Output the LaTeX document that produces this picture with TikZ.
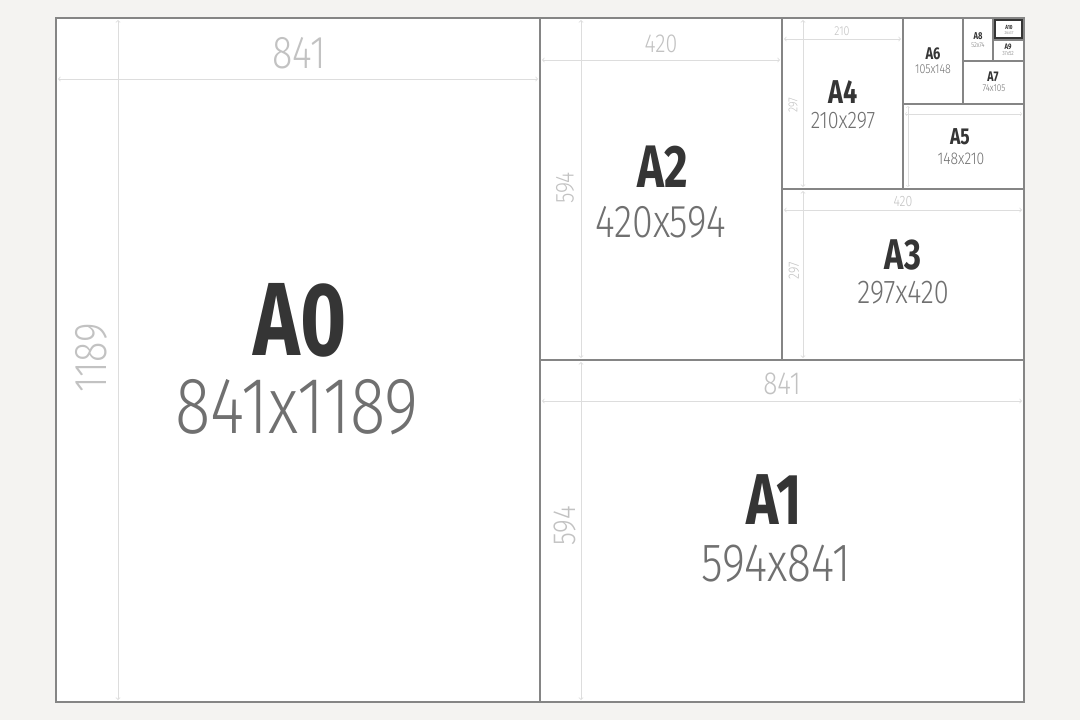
\documentclass[tikz,border=0pt]{standalone}
\usepackage{fontspec}
\usepackage{tikz}
\usetikzlibrary{arrows}

\newfontfamily\namefont[FakeStretch=0.76]{Fira Sans}
\newfontfamily\sizefont[FakeStretch=0.82]{Fira Sans Light}

\definecolor{pagebg}{HTML}{F4F3F1}
\definecolor{sheetline}{HTML}{858585}
\definecolor{namecol}{HTML}{353535}
\definecolor{sizecol}{HTML}{707070}
\definecolor{dimcol}{HTML}{C2C2C2}
\definecolor{dimline}{HTML}{DDDDDD}

\begin{document}
\begin{tikzpicture}[x=1pt, y=-1pt,
    sheet/.style = {draw=sheetline, line width=1.1pt},
    dim/.style = {draw=dimline, line width=0.8pt, to-to},
    papername/.style = {font=\namefont\bfseries\fontsize{#1}{#1}\selectfont, text=namecol, inner sep=0pt},
    papersize/.style = {font=\sizefont\fontsize{#1}{#1}\selectfont, text=sizecol, inner sep=0pt},
    dimlabel/.style = {font=\sizefont\fontsize{#1}{#1}\selectfont, text=dimcol, inner sep=0pt}]
        \useasboundingbox (0,0) rectangle (1080,720);
        \fill[pagebg] (0,0) rectangle (1080,720);
        \fill[white] (56,18) rectangle (1024,702);

        % dimension lines
        \draw[dim] (58,79) -- (538,79);
        \draw[dim] (118,20) -- (118,700);
        \draw[dim] (542,60) -- (780,60);
        \draw[dim] (581,20) -- (581,358);
        \draw[dim] (542,401) -- (1022,401);
        \draw[dim] (581,362) -- (581,700);
        \draw[dim] (784,210) -- (1022,210);
        \draw[dim] (803,191) -- (803,358);
        \draw[dim] (784,39) -- (901,39);
        \draw[dim] (803,20) -- (803,187);
        \draw[dim, line width=0.5pt] (905,114) -- (1022,114);
        \draw[dim, line width=0.5pt] (908,106) -- (908,187);

        % sheets
        \draw[sheet] (56,18) rectangle (1024,702);
        \draw[sheet] (540,18) -- (540,702);
        \draw[sheet] (540,360) -- (1024,360);
        \draw[sheet] (782,18) -- (782,360);
        \draw[sheet] (782,189) -- (1024,189);
        \draw[sheet] (903,18) -- (903,189);
        \draw[sheet] (903,104) -- (1024,104);
        \draw[sheet] (963,18) -- (963,104);
        \draw[sheet] (963,61) -- (1024,61);
        \draw[sheet] (993,18) -- (993,61);
        \draw[sheet] (993,40) -- (1024,40);
        \draw[draw=namecol, line width=2.5pt] (995,20) rectangle (1022,38);

        % A0
        \node[papername=104] at (300, 320) (a0) {A0};
        \node[papersize=80] at (297, 407) (a0size) {841x1189};
        \node[dimlabel=46] at (299, 53) (a0w) {841};
        \node[dimlabel=46, rotate=90] at (91, 358) (a0h) {1189};

        % A1
        \node[papername=72] at (774, 500) (a1) {A1};
        \node[papersize=54] at (776, 564) (a1size) {594x841};
        \node[dimlabel=32] at (782, 384) (a1w) {841};
        \node[dimlabel=32, rotate=90] at (565, 526) (a1h) {594};

        % A2
        \node[papername=60] at (663, 167) (a2) {A2};
        \node[papersize=46] at (661, 222) (a2size) {420x594};
        \node[dimlabel=26] at (661, 44) (a2w) {420};
        \node[dimlabel=26, rotate=90] at (565, 188) (a2h) {594};

        % A3
        \node[papername=43] at (903, 255) (a3) {A3};
        \node[papersize=33] at (903, 293) (a3size) {297x420};
        \node[dimlabel=15] at (903, 202) (a3w) {420};
        \node[dimlabel=15, rotate=90] at (794, 271) (a3h) {297};

        % A4
        \node[papername=33] at (843, 92) (a4) {A4};
        \node[papersize=24] at (843, 121) (a4size) {210x297};
        \node[dimlabel=13] at (842, 31) (a4w) {210};
        \node[dimlabel=13, rotate=90] at (793, 105) (a4h) {297};

        % A5 .. A10
        \node[papername=23] at (960, 137) (a5) {A5};
        \node[papersize=17] at (961, 159) (a5size) {148x210};
        \node[papername=17] at (933, 54) (a6) {A6};
        \node[papersize=13] at (933, 69) (a6size) {105x148};
        \node[papername=14] at (993, 77) (a7) {A7};
        \node[papersize=10] at (994, 88) (a7size) {74x105};
        \node[papername=10] at (978, 36) (a8) {A8};
        \node[papersize=7] at (978, 45) (a8size) {52x74};
        \node[papername=8] at (1008, 47) (a9) {A9};
        \node[papersize=6] at (1008, 54) (a9size) {37x52};
        \node[papername=6] at (1009, 27) (a10) {A10};
        \node[papersize=4.5] at (1009, 33) (a10size) {26x37};
\end{tikzpicture}
\end{document}
